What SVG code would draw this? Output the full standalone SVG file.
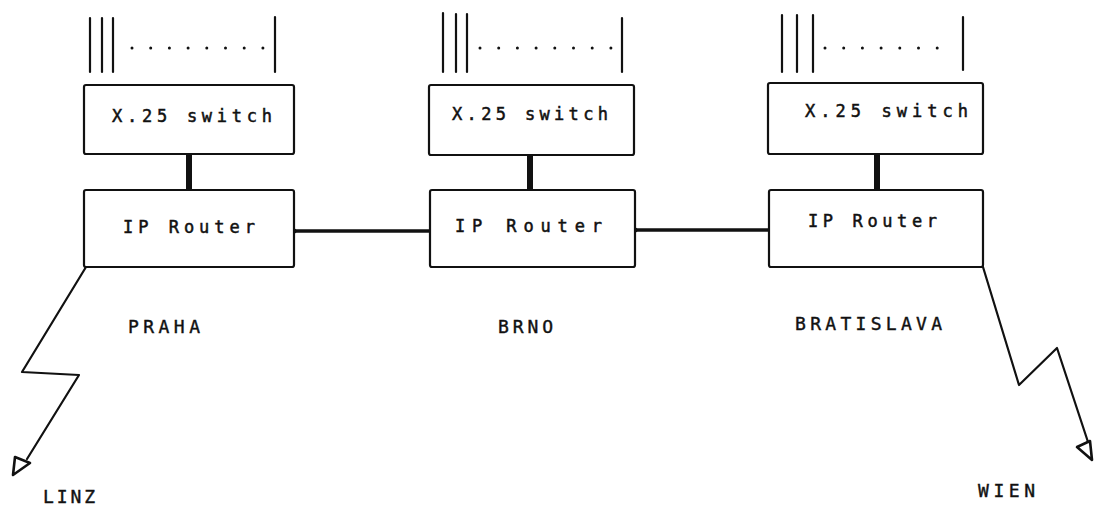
<svg xmlns="http://www.w3.org/2000/svg" width="1097" height="518" viewBox="0 0 1097 518">
<style>
.box{fill:#fff;stroke:#111;stroke-width:2.2}
.ln{stroke:#111;stroke-width:2.2;fill:none;stroke-linecap:round;stroke-linejoin:round}
.dot{stroke:#111;stroke-width:3;stroke-dasharray:0 18.7;stroke-linecap:round;fill:none}
.link{stroke:#111;stroke-width:3.5;fill:none}
.up{stroke:#111;stroke-width:6;fill:none}
.t{font-family:"DejaVu Sans Mono","Liberation Mono",monospace;font-size:17px;fill:#111;stroke:#111;stroke-width:0.5}
.lb{font-family:"DejaVu Sans Mono","Liberation Mono",monospace;font-size:18px;fill:#111;stroke:#111;stroke-width:0.4}
.tri{fill:#fff;stroke:#111;stroke-width:2.6;stroke-linejoin:round}
</style>
<g id="connectors">
<line class="up" x1="189" y1="154" x2="189" y2="190"/>
<line class="up" x1="530" y1="155" x2="530" y2="190"/>
<line class="up" x1="877" y1="154" x2="877" y2="190"/>
<line class="link" x1="294" y1="231" x2="430" y2="231"/>
<line class="link" x1="635" y1="230" x2="769" y2="230"/>
<circle cx="294" cy="231" r="2.5" fill="#111"/>
<circle cx="635" cy="230" r="2.5" fill="#111"/>
<polyline class="ln" points="86,267 22,372 79,375 27,459"/>
<path class="tri" d="M15,457 L30,463 L13,475 Z"/>
<polyline class="ln" points="983,267 1019,385 1057,348 1088,442"/>
<path class="tri" d="M1077,447 L1090,441 L1092,460 Z"/>
</g>
<g id="lines-praha">
<line class="ln" x1="90" y1="18" x2="90" y2="72"/>
<line class="ln" x1="102" y1="18" x2="102" y2="72"/>
<line class="ln" x1="113" y1="18" x2="113" y2="72"/>
<line class="ln" x1="275" y1="17" x2="275" y2="72"/>
<line class="dot" x1="132" y1="48" x2="264" y2="48"/>
</g>
<g id="lines-brno">
<line class="ln" x1="443" y1="13" x2="443" y2="72"/>
<line class="ln" x1="456" y1="14" x2="456" y2="72"/>
<line class="ln" x1="467" y1="14" x2="467" y2="72"/>
<line class="ln" x1="622" y1="18" x2="622" y2="72"/>
<line class="dot" x1="480" y1="48" x2="614" y2="48"/>
</g>
<g id="lines-bratislava">
<line class="ln" x1="782" y1="15" x2="782" y2="72"/>
<line class="ln" x1="797" y1="15" x2="797" y2="72"/>
<line class="ln" x1="813" y1="15" x2="813" y2="72"/>
<line class="ln" x1="963" y1="17" x2="963" y2="70"/>
<line class="dot" x1="825" y1="48" x2="950" y2="48"/>
</g>
<g id="x25-praha">
<rect class="box" x="84" y="85" width="210" height="69" rx="2"/>
<text class="t" x="112" y="122" textLength="160" lengthAdjust="spacing">X.25 switch</text>
</g>
<g id="router-praha">
<rect class="box" x="84" y="190" width="210" height="77" rx="2"/>
<text class="t" x="123" y="233" textLength="132" lengthAdjust="spacing">IP Router</text>
</g>
<g id="x25-brno">
<rect class="box" x="429" y="85" width="205" height="70" rx="2"/>
<text class="t" x="452" y="120" textLength="156" lengthAdjust="spacing">X.25 switch</text>
</g>
<g id="router-brno">
<rect class="box" x="430" y="190" width="205" height="77" rx="2"/>
<text class="t" x="455" y="232" textLength="147" lengthAdjust="spacing">IP Router</text>
</g>
<g id="x25-bratislava">
<rect class="box" x="768" y="83" width="215" height="71" rx="2"/>
<text class="t" x="805" y="117" textLength="163" lengthAdjust="spacing">X.25 switch</text>
</g>
<g id="router-bratislava">
<rect class="box" x="769" y="190" width="214" height="77" rx="2"/>
<text class="t" x="808" y="227" textLength="129" lengthAdjust="spacing">IP Router</text>
</g>
<g id="labels">
<text class="lb" x="128" y="333" textLength="72" lengthAdjust="spacing">PRAHA</text>
<text class="lb" x="498" y="333" textLength="55" lengthAdjust="spacing">BRNO</text>
<text class="lb" x="795" y="330" textLength="147" lengthAdjust="spacing">BRATISLAVA</text>
<text class="lb" x="43" y="503" textLength="52" lengthAdjust="spacing">LINZ</text>
<text class="lb" x="978" y="497" textLength="57" lengthAdjust="spacing">WIEN</text>
</g>
</svg>
